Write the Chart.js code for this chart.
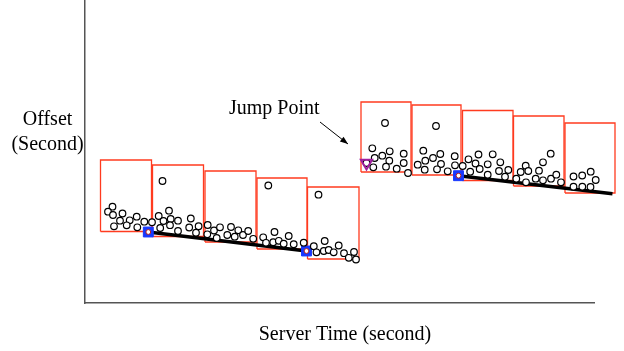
<!DOCTYPE html>
<html><head><meta charset="utf-8">
<script src="https://cdn.jsdelivr.net/npm/chart.js@4"></script>
<style>html,body{margin:0;padding:0;background:#fff}#wrap{width:624px;height:351px}</style>
</head><body><div id="wrap"><canvas id="c" width="624" height="351"></canvas></div>
<script>
// ---- data (server time / offset, arbitrary units) ----
const windowStart = [15.5, 67.5, 120, 172, 222.5, 276, 327, 377.5, 428.5, 480];
const windowEnd   = [66.5, 118.5, 171, 222, 274, 326, 376, 428, 479, 530];
const windowHigh  = [143, 138, 132, 125, 116, 201, 198, 192.5, 187, 180];
const windowLow   = [71.5, 66.5, 61, 54, 44, 131, 128, 122.5, 117, 110];

const sampleTime = [
  27.5,23,28,37.5,35,29,44.7,51.7,41.7,52.3,59.3,67,
  77.5,73.7,78.5,84,85.7,93,75.2,85,93,105.8,104.2,113.6,111,
  122.7,122.3,129,135,131.7,146,142.3,153.3,149.7,158,163.2,168.2,
  183.3,178.2,181,189.5,188.2,193.8,198.7,203.7,208.7,218.7,
  233.5,228.8,231.5,239.7,238.8,243.7,248.7,253.7,259,263.8,269,271,
  281.5,300,287.3,289.7,288.3,297.3,304.7,304.3,301,311.7,318.7,318.7,323,
  351,338.3,340.3,332.7,339.7,348,355.3,356,352,362.7,369.7,370,
  377.7,383.5,385.2,390.5,393.5,394.7,402.7,402.7,407.7,415.3,414,420,423.3,
  431.3,435.7,440.7,443.3,441,450.7,454,458,458,465.7,466,471.3,476,
  488.5,488.5,497.2,497.3,505.7,510.7,505.5,516,520.5,525.5
];
const sampleOffset = [
  96.3,91.3,88,89.5,82.3,76.7,82.7,86.3,77.7,75.7,81.3,80.8,
  122,87,82,92.3,84,82.3,75,77.8,72,84.5,75.5,76.8,70.3,
  78,68.7,72.5,75.7,65,76,68,72.7,66.3,68,72,64.2,
  117.5,65.7,60.2,71,60.8,62.2,59.3,67,58.8,60.3,
  108.3,56.8,50.7,62,52,53,50.7,57.5,49.8,45.2,51,43.5,
  140,180,154.7,145,135.7,147.3,151.7,142.3,136.3,134.3,149.3,140,130,
  177,152.3,142.3,138.3,133.3,145,149,139,133.7,131.7,146.8,137.7,
  137,143.7,131.3,139.5,148.5,134,138.7,128.3,148.7,140.7,132,126.3,133,
  124.3,131,137.3,132,120.7,124.3,132.3,140.7,122.7,149.3,124.3,128.3,120.7,
  126.5,116.3,127.5,116.3,131.3,123,116,115,113.5,116.3
];

const minTime   = [63.3, 221.5, 373.5, 527.5];
const minOffset = [71, 52, 127.3, 109.2];
const jumpTime   = [281.5];
const jumpOffset = [140];

const yTitleLines = ['Offset', '(Second)'];
const xTitle = 'Server Time (second)';
const jumpLabel = 'Jump Point';

// ---- build datasets ----
const pts = (xs, ys) => xs.map((x, i) => ({x, y: ys[i]}));
const datasets = [];

windowStart.forEach((s, i) => {
  const e = windowEnd[i], hi = windowHigh[i], lo = windowLow[i];
  datasets.push({
    type: 'line',
    data: [{x:s,y:lo},{x:s,y:hi},{x:e,y:hi},{x:e,y:lo},{x:s,y:lo}],
    borderColor: '#ff3b1f', borderWidth: 1.3, pointRadius: 0,
    fill: false, tension: 0, clip: false, order: 6
  });
});
[[0,1],[2,3]].forEach(([a,b]) => {
  datasets.push({
    type: 'line',
    data: [{x:minTime[a],y:minOffset[a]},{x:minTime[b],y:minOffset[b]}],
    borderColor: '#000', borderWidth: 3.5, pointRadius: 0,
    fill: false, clip: false, order: 5
  });
});
datasets.push({
  type: 'scatter', data: pts(minTime, minOffset),
  pointStyle: 'rect', pointRadius: 7, backgroundColor: '#1838ff',
  borderColor: '#1838ff', borderWidth: 1, clip: false, order: 4
});
datasets.push({
  type: 'scatter', data: pts(sampleTime, sampleOffset),
  pointStyle: 'circle', pointRadius: 3.3, backgroundColor: '#fff',
  borderColor: '#000', borderWidth: 1.2, clip: false, order: 3
});
datasets.push({
  type: 'scatter', data: pts(minTime, minOffset),
  pointStyle: 'circle', pointRadius: 2.4, backgroundColor: '#fff',
  borderColor: '#b02020', borderWidth: 1, clip: false, order: 2
});
datasets.push({
  type: 'scatter', data: pts(jumpTime, jumpOffset),
  pointStyle: 'triangle', rotation: 180, pointRadius: 6.5,
  backgroundColor: 'rgba(0,0,0,0)', borderColor: '#a0209f', borderWidth: 2,
  clip: false, order: 1
});

const textPlugin = {
  id: 'texts',
  afterDraw(chart) {
    const ctx = chart.ctx;
    ctx.save();
    ctx.fillStyle = '#000';
    ctx.font = '20px "Liberation Serif", "Times New Roman", serif';
    ctx.textAlign = 'center';
    ctx.textBaseline = 'alphabetic';
    ctx.fillText(yTitleLines[0], 47.5, 125);
    ctx.fillText(yTitleLines[1], 47.5, 150);
    ctx.fillText(xTitle, 345, 340);
    ctx.textAlign = 'left';
    ctx.fillText(jumpLabel, 229, 114);
    // arrow
    const x1 = 320, y1 = 122, x2 = 348, y2 = 144;
    ctx.strokeStyle = '#000'; ctx.lineWidth = 1;
    ctx.beginPath(); ctx.moveTo(x1, y1); ctx.lineTo(x2, y2); ctx.stroke();
    const ang = Math.atan2(y2 - y1, x2 - x1), L = 8, W = 3;
    ctx.beginPath();
    ctx.moveTo(x2, y2);
    ctx.lineTo(x2 - L*Math.cos(ang) + W*Math.sin(ang), y2 - L*Math.sin(ang) - W*Math.cos(ang));
    ctx.lineTo(x2 - L*Math.cos(ang) - W*Math.sin(ang), y2 - L*Math.sin(ang) + W*Math.cos(ang));
    ctx.closePath(); ctx.fill();
    ctx.restore();
  }
};

new Chart(document.getElementById('c'), {
  type: 'scatter',
  data: { datasets },
  options: {
    responsive: false, animation: false, devicePixelRatio: 1,
    layout: { autoPadding: false, padding: { left: 85, right: 30, top: 0, bottom: 48 } },
    plugins: { legend: { display: false }, tooltip: { enabled: false } },
    scales: {
      x: { type: 'linear', min: 0, max: 509,
           grid: { display: false, drawTicks: false }, ticks: { display: false },
           border: { display: true, color: '#555', width: 1.5 } },
      y: { type: 'linear', min: 0, max: 303,
           grid: { display: false, drawTicks: false }, ticks: { display: false },
           border: { display: true, color: '#555', width: 1.5 } }
    }
  },
  plugins: [textPlugin]
});
</script>
</body></html>
